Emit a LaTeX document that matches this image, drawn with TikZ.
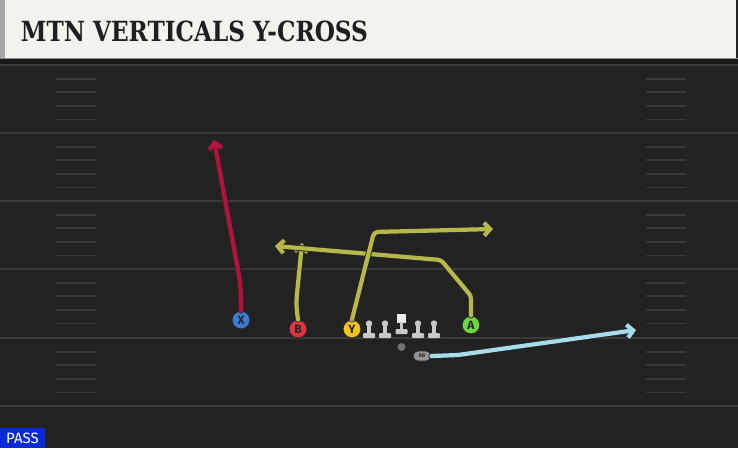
\documentclass[tikz,border=0pt]{standalone}
\usepackage{fontspec}
\setmainfont{Fira Sans}
\newfontfamily\titlefont{DejaVu Serif}
\usetikzlibrary{arrows.meta,shapes.misc}

\definecolor{fieldbg}{HTML}{222222}
\definecolor{yardline}{HTML}{3A3A3A}
\definecolor{hashline}{HTML}{393939}
\definecolor{titlebg}{HTML}{F4F2EC}
\definecolor{xblue}{HTML}{3B7BD8}
\definecolor{bred}{HTML}{E2323F}
\definecolor{yyellow}{HTML}{F3C41C}
\definecolor{agreen}{HTML}{6FD63C}
\definecolor{redroute}{HTML}{B3123D}
\definecolor{oliveroute}{HTML}{B7B74A}
\definecolor{blueroute}{HTML}{A6DDE9}
\definecolor{linegray}{HTML}{C9C9C9}
\definecolor{passblue}{HTML}{0A2AD8}

\newcommand{\playroute}[2]{%
  \draw[routeedge] #2;
  \draw[routefill, #1] #2;}

\begin{document}
\begin{tikzpicture}[x=1pt, y=-1pt,
    player/.style={circle, draw=black!85, line width=1pt, minimum size=18pt,
      inner sep=0pt, font=\bfseries\fontsize{12}{12}\selectfont, text=black!85},
    hashmark/.style={draw=hashline, line width=1.8pt},
    yard/.style={draw=yardline, line width=2pt},
    routeedge/.style={draw=black!85, line width=6pt, line cap=round, line join=round,
      -{Straight Barb[length=6pt, width=13pt]}},
    routefill/.style={line width=4.2pt, line cap=round, line join=round,
      -{Straight Barb[length=6pt, width=13pt]}}]

  \useasboundingbox (0,0) rectangle (738,448);
  \fill[fieldbg] (0,0) rectangle (738,448);
  \fill[black!90] (0,58) rectangle (738,64);

  % field lines
  \foreach \yl in {65,133,201,269,338,406}
    \draw[yard] (0,\yl) -- (738,\yl);
  \foreach \yl in {65,133,201,269,338} {
    \foreach \k in {1,...,4} {
      \draw[hashmark] (56,{\yl+13.6*\k}) -- (96,{\yl+13.6*\k});
      \draw[hashmark] (646,{\yl+13.6*\k}) -- (686,{\yl+13.6*\k});
    }
  }

  % title bar
  \fill[titlebg] (5,0) rectangle (736,58);
  \fill[black!35] (0,0) rectangle (5,58);
  \draw[black!45, line width=1pt] (0,58.5) -- (738,58.5);
  \node[anchor=south west, inner sep=0pt, text=black!88] (title) at (20.7,42.3)
    {\resizebox{347pt}{20.6pt}{\titlefont\bfseries MTN VERTICALS Y-CROSS}};

  % offensive line
  \foreach \lx in {369,385,418,434} {
    \fill[linegray] (\lx,323.5) circle (3.2pt);
    \fill[linegray] (\lx-1.6,325) rectangle (\lx+1.6,334);
    \fill[linegray, rounded corners=1pt] (\lx-6,333) rectangle (\lx+6,338);
  }
  \fill[white!92!black] (397,314) rectangle (406,323);
  \fill[linegray] (400,322) rectangle (403,330);
  \fill[linegray, rounded corners=1pt] (395.5,329) rectangle (407.5,334);

  % skill players
  \node[player, fill=xblue] (X) at (241,320) {X};
  \node[player, fill=bred] (B) at (298,329) {B};
  \node[player, fill=yyellow] (Y) at (352,329) {Y};
  \node[player, fill=agreen] (A) at (471,325) {A};
  \node[circle, fill=black!55, minimum size=8pt, inner sep=0pt] (QB) at (401.5,347) {};
  \node[rounded rectangle, fill=black!42, draw=black!85, line width=0.8pt,
    minimum width=18pt, minimum height=10pt, inner sep=0pt,
    font=\bfseries\fontsize{5}{5}\selectfont, text=black!85] (RB) at (422,356) {RB};

  % route ends
  \coordinate (Xend) at (214,140);
  \coordinate (Bend) at (302,243);
  \coordinate (Aend) at (275,246);
  \coordinate (Yend) at (493,229);
  \coordinate (RBend) at (636,330);

  % routes
  \playroute{redroute}{[rounded corners=14pt] (X.north) -- (241,286) -- (Xend)}
  \playroute{oliveroute}{[rounded corners=8pt] (B.north) -- (296,304) -- (Bend)}
  \playroute{oliveroute}{[rounded corners=3pt] (A.north) -- (471,296) -- (441,260) -- (Aend)}
  \playroute{oliveroute}{[rounded corners=4pt] (Y.north) -- (374,232) -- (Yend)}
  \playroute{blueroute}{[rounded corners=4pt] (RB.east) -- (458,355) -- (RBend)}

  % play type tag
  \fill[passblue] (0,428) rectangle (45,448);
  \node[text=white, font=\fontsize{15}{15}\selectfont, inner sep=0pt] (pass) at (22.5,438.5) {PASS};

\end{tikzpicture}
\end{document}
